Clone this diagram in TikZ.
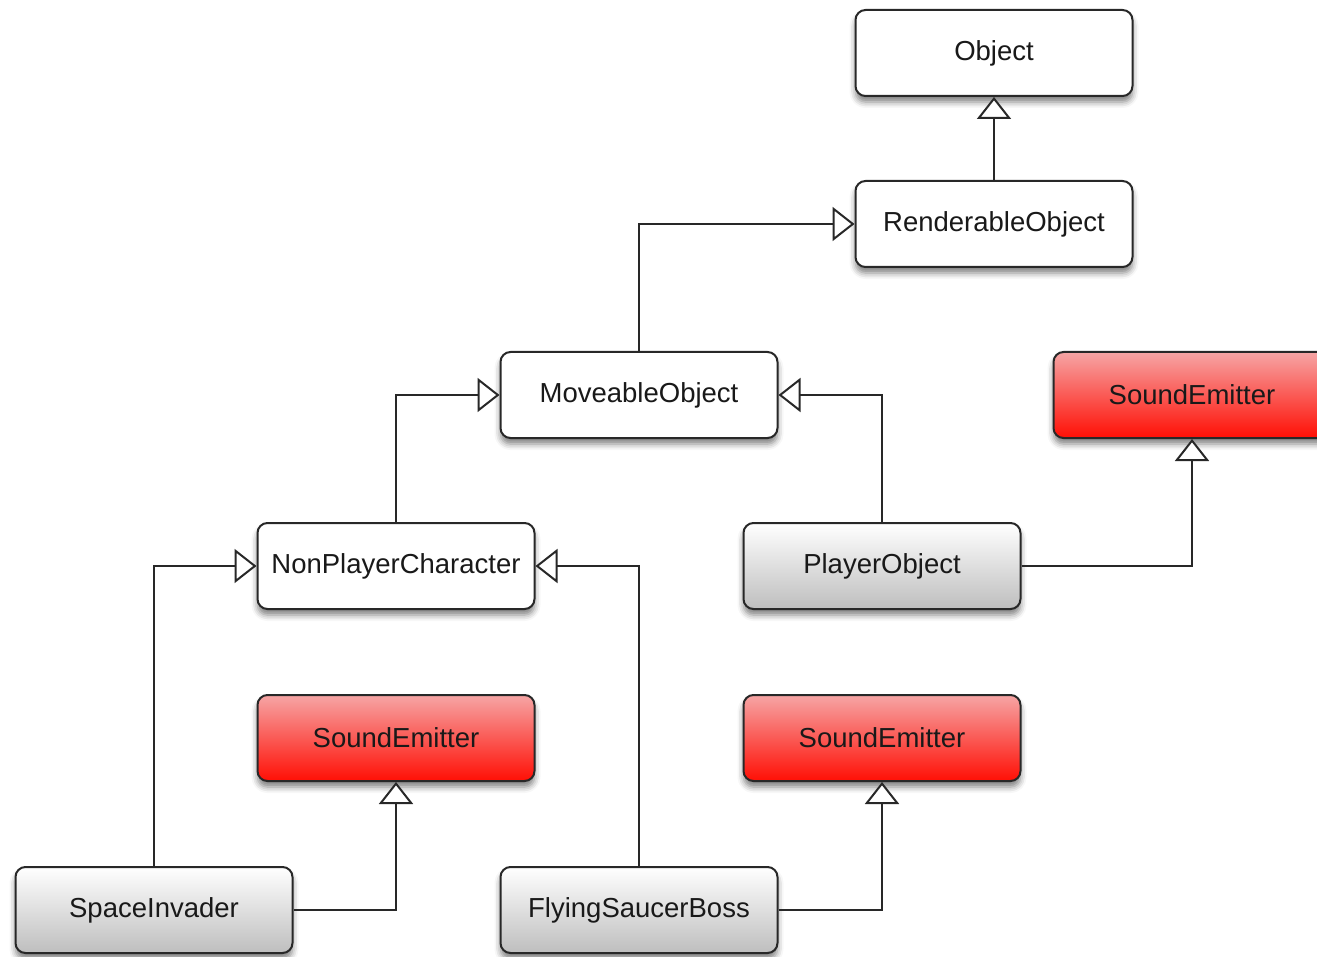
\documentclass[tikz,border=0pt]{standalone}
\usepackage{fontspec}
\setmainfont{Liberation Sans}
\usetikzlibrary{arrows.meta,shadows.blur}
\definecolor{edge}{RGB}{40,40,40}
\definecolor{txt}{RGB}{25,25,25}
\definecolor{grayB}{RGB}{190,190,190}
\definecolor{redT}{RGB}{246,165,165}
\definecolor{redM}{RGB}{252,55,45}
\definecolor{redB}{RGB}{255,15,5}
\tikzset{
  cls/.style={draw=edge, line width=2pt, rounded corners=10pt, minimum width=277pt, minimum height=86pt,
    inner sep=0pt, text=txt, font=\fontsize{27.5}{32}\selectfont,
    blur shadow={shadow xshift=0pt, shadow yshift=-6pt, shadow blur radius=6pt, shadow opacity=50}},
  plain/.style={cls, fill=white},
  grayc/.style={cls, top color=white, bottom color=grayB},
  redc/.style={cls, top color=redT, middle color=redM, bottom color=redB},
  inh/.style={draw=edge, line width=2pt, -{Triangle[open, length=22pt, width=34pt, line width=2pt, fill=white]}}
}
\begin{document}
\begin{tikzpicture}[x=1pt,y=-1pt]
\useasboundingbox (0,0) rectangle (1317,957);
\clip (0,0) rectangle (1317,957);
\node[plain] (obj) at (994,53) {Object};
\node[plain] (ro) at (994,224) {RenderableObject};
\node[plain] (mo) at (639,395) {MoveableObject};
\node[redc] (se1) at (1192,395) {SoundEmitter};
\node[plain] (npc) at (396,566) {NonPlayerCharacter};
\node[grayc] (po) at (882,566) {PlayerObject};
\node[redc] (se2) at (396,738) {SoundEmitter};
\node[redc] (se3) at (882,738) {SoundEmitter};
\node[grayc] (si) at (154,910) {SpaceInvader};
\node[grayc] (fsb) at (639,910) {FlyingSaucerBoss};
\draw[inh] (ro.north) -- (obj.south);
\draw[inh] (mo.north) |- (ro.west);
\draw[inh] (npc.north) |- (mo.west);
\draw[inh] (po.north) |- (mo.east);
\draw[inh] (po.east) -| (se1.south);
\draw[inh] (si.north) |- (npc.west);
\draw[inh] (fsb.north) |- (npc.east);
\draw[inh] (si.east) -| (se2.south);
\draw[inh] (fsb.east) -| (se3.south);
\end{tikzpicture}
\end{document}
